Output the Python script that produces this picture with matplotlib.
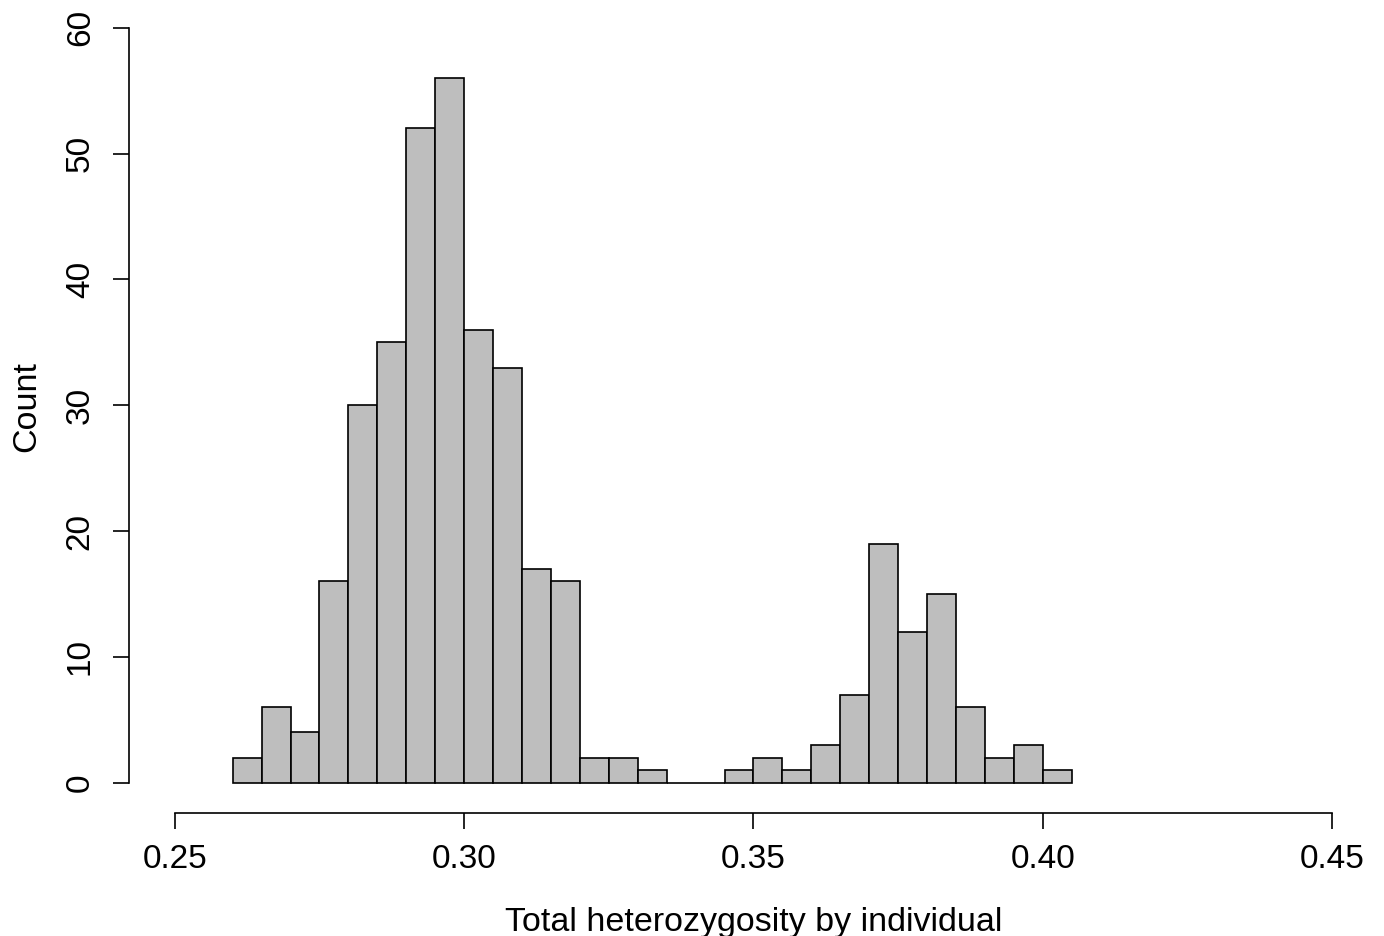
import matplotlib
matplotlib.use("Agg")
import matplotlib.pyplot as plt
import numpy as np

bin_edges = [round(0.26 + 0.005 * i, 3) for i in range(30)]
counts = [2, 6, 4, 16, 30, 35, 52, 56, 36, 33, 17, 16, 2, 2, 1, 0, 0,
          1, 2, 1, 3, 7, 19, 12, 15, 6, 2, 3, 1]
xticks = [0.25, 0.30, 0.35, 0.40, 0.45]
xtick_labels = ["0.25", "0.30", "0.35", "0.40", "0.45"]
yticks = [0, 10, 20, 30, 40, 50, 60]

plt.rcParams['font.family'] = ['Liberation Sans', 'DejaVu Sans']

fig = plt.figure(figsize=(13.84, 9.36), dpi=100)
W, H = 1384, 936
left_px, right_px, bottom_px, top_px = 128.5, 1378.5, 813, 0
ax = fig.add_axes([left_px / W, 1 - bottom_px / H, (right_px - left_px) / W, (bottom_px - top_px) / H])

ax.hist(bin_edges[:-1], bins=bin_edges, weights=counts, color='#BEBEBE',
        edgecolor='black', linewidth=1.2)

# R-style limits (4% extension)
ax.set_xlim(0.242, 0.458)
y0 = -2.4
ppu = (783 - 28) / 60.0
ax.set_ylim(y0, y0 + (bottom_px - top_px) / ppu)

for s in ['top', 'right']:
    ax.spines[s].set_visible(False)
ax.spines['bottom'].set_bounds(0.25, 0.45)
ax.spines['left'].set_bounds(0, 60)
for s in ['bottom', 'left']:
    ax.spines[s].set_linewidth(1.2)

ax.set_xticks(xticks)
ax.set_xticklabels(xtick_labels)
ax.set_yticks(yticks)
ax.set_yticklabels([str(v) for v in yticks], rotation=90, va='center')
ax.tick_params(axis='both', length=11.5, width=1.2, labelsize=24)
ax.tick_params(axis='x', pad=11)
ax.tick_params(axis='y', pad=12)

ax.set_xlabel("Total heterozygosity by individual", fontsize=24.5, labelpad=23)
ax.set_ylabel("Count", fontsize=24.5, labelpad=16)

fig.savefig("out.png", dpi=100)
